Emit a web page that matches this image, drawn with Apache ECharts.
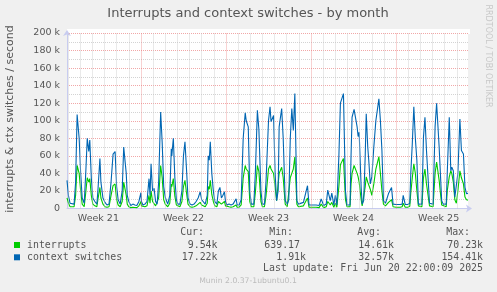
<!DOCTYPE html>
<html><head><meta charset="utf-8">
<script src="https://cdn.jsdelivr.net/npm/echarts@6/dist/echarts.min.js"></script>
<style>html,body{margin:0;padding:0;background:#f0f0f0;}#c{width:497px;height:292px;}</style>
</head><body><div id="c"></div>
<script>
// time in hours since graph start (Sun May 18 22:00 2025), values in thousands per second
const hours = [
0,3,6,14,17,20,24,27,30,34,
37,40,43,45,48,51,55,59,61,65,
67,71,75,79,83,87,91,95,98,101,
105,109,112,114,117,119,122,126,130,134,
138,142,146,147,150,154,158,162,164,166,
169,172,175,178,181,185,188,191,194,197,
199,203,206,207,210,213,216,219,223,227,
230,233,236,239,243,247,251,255,259,263,
266,269,273,277,279,281,283,286,289,292,
296,299,302,305,308,311,313,316,320,324,
328,331,334,336,340,344,348,352,354,358,
361,364,369,372,376,379,383,386,390,393,
398,401,403,408,411,414,417,419,424,427,
431,435,438,441,444,447,450,454,457,460,
467,470,475,478,484,492,498,502,507,512,
515,518,520,523,527,530,533,537,540,546,
550,553,559,561,563,567,573,575,577,581,
583,586,589,591,594,596,599,602,606,610,
616,619,622,625,629,635,641,644,650,658,
662,664,668,673,677,679,682,685,688,691,
694,697,701,704,707,710,716,719,723,727,
730,735,740,743,749,751,755,758,760,763,
766,769,772,776,779,783,786,789,792];
const contextSwitches = [
32,14,6,5,30,107,80,40,12,6,
40,80,65,78,35,12,8,5,20,57,
30,12,7,4,5,30,62,65,25,10,
5,20,70,72,40,15,8,3.5,5,4,
3.5,8,18,8,4,5,8,34,15,51,
20,23,8,5,30,110,75,25,13,8,
5,15,68,60,80,35,10,5,5,20,
60,76,45,12,5,4,5,8,12,19,
10,8,5,15,60,55,76,40,20,8,
5,20,24,12,15,19,8,4,5,4,
5,5,11,4,4,10,80,109,100,93,
20,5,5,40,112,90,20,5,5,30,
100,116,99,106,40,9,20,93,114,80,
9,5,10,80,114,89,131,9,5,5,
7,6,26,4,4,4,3.5,11,3.5,5,
21,20,9,17.5,4,15,4,60,120,131,
20,4,4,60,104,113,93,82,87,24,
5,9,60,108,70,55,28,36,70,100,
125,100,66,9,6,17,24,5,4.6,4.6,
5,15,4.6,4.6,6,40,74,116,80,55,
5,4.6,5,81,104,66,6,4.6,5,93,
120,70,9,5,5,40,104,43,47,43,
13,11,40,102,66,62,24,17,17.22];
const interrupts = [
12,6,2,2,15,49,40,20,5,2,
18,35,30,34,15,5,3,2,10,24,
12,5,2,1.5,2,15,26,28,10,4,
2,8,30,31,15,5,2,1,1.5,1.2,
1,3,8,3,1.5,2,3,15,6,20,
8,10,3,2,12,49,35,10,5,3,
2,6,28,25,34,14,4,2,2,8,
25,32,18,5,2,1.5,2,3,5,7,
4,3,2,6,25,22,32,16,8,3,
2,8,10,5,6,8,3,1.5,2,1.5,
2,2,4,1.5,1.5,4,35,49,45,42,
8,2,2,18,49,42,8,2,2,14,
45,49,45,40,25,9,10,40,47,35,
5,2,4,35,40,45,59,5,2,2,
3,2.5,12,1.5,1.5,1.5,1,5,1,2,
8,8,4,7,1.5,6,1.5,25,50,57,
10,2,2,28,40,49,40,36,30,10,
3,5,25,36,30,28,22,15,28,45,
59,40,20,5,3,7,10,2,1.5,1.5,
2,6,1.5,1.5,2.5,18,35,51,40,20,
3,1.5,2,35,45,28,3,1.5,2,40,
53,32,4,2,2,20,36,43,40,30,
10,6,20,43,35,28,13,10,9.54];
const weekLabels = ['Week 21','Week 22','Week 23','Week 24','Week 25'];
const weekLabelHours = [62,230,398,566,734];
const weekLineHours = [146,314,482,650];
const dayLineHours = [];
for (let h = 2; h < 792; h += 24) dayLineHours.push(h);
const legendRows = [
  {name:'interrupts', color:'#00cc00', cur:'9.54k', min:'639.17', avg:'14.61k', max:'70.23k'},
  {name:'context switches', color:'#0066b3', cur:'17.22k', min:'1.91k', avg:'32.57k', max:'154.41k'}
];

const chart = echarts.init(document.getElementById('c'), null, {renderer:'canvas'});
const sans = 'DejaVu Sans';
const zip = (a, b) => a.map((v, i) => [v, b[i]]);
const gray = {color:'rgba(200,200,200,0.8)', width:1, type:[1,1]};
const red = {color:'rgba(235,130,130,0.7)', width:1, type:[1,1]};
const graphic = [
  {type:'rect', shape:{x:67, y:29, width:403, height:5}, style:{fill:'#fff'}, z:-10, silent:true},
  {type:'text', x:248, y:13.5, style:{text:'Interrupts and context switches - by month', font:'13px "DejaVu Sans"', fill:'#555', align:'center', verticalAlign:'middle'}},
  {type:'text', x:10, y:119, rotation:Math.PI/2, style:{text:'interrupts & ctx switches / second', font:'11px "DejaVu Sans"', fill:'#555', align:'center', verticalAlign:'middle'}},
  {type:'text', x:488, y:56, rotation:-Math.PI/2, style:{text:'RRDTOOL / TOBI OETIKER', font:'8px "DejaVu Sans"', fill:'#c8c8c8', align:'center', verticalAlign:'middle'}},
  {type:'text', x:204, y:232.5, style:{text:'Cur:', font:'9.9px "DejaVu Sans Mono"', fill:'#555', align:'right', verticalAlign:'middle'}},
  {type:'text', x:293, y:232.5, style:{text:'Min:', font:'9.9px "DejaVu Sans Mono"', fill:'#555', align:'right', verticalAlign:'middle'}},
  {type:'text', x:381, y:232.5, style:{text:'Avg:', font:'9.9px "DejaVu Sans Mono"', fill:'#555', align:'right', verticalAlign:'middle'}},
  {type:'text', x:470, y:232.5, style:{text:'Max:', font:'9.9px "DejaVu Sans Mono"', fill:'#555', align:'right', verticalAlign:'middle'}},
  {type:'text', x:483, y:268.5, style:{text:'Last update: Fri Jun 20 22:00:09 2025', font:'9.9px "DejaVu Sans Mono"', fill:'#555', align:'right', verticalAlign:'middle'}},
  {type:'text', x:248, y:281, style:{text:'Munin 2.0.37-1ubuntu0.1', font:'7.7px "DejaVu Sans"', fill:'#bbb', align:'center', verticalAlign:'middle'}}
];
legendRows.forEach((r, i) => {
  const y = 245 + i * 12.3;
  graphic.push({type:'rect', shape:{x:14, y:y-3, width:6, height:6}, style:{fill:r.color}});
  graphic.push({type:'text', x:27, y:y, style:{text:r.name, font:'9.9px "DejaVu Sans Mono"', fill:'#555', align:'left', verticalAlign:'middle'}});
  const minEnd = /k$/.test(r.min) ? 306 : 300;
  [[r.cur,217.5],[r.min,minEnd],[r.avg,394],[r.max,483]].forEach(([t,x]) => {
    graphic.push({type:'text', x:x, y:y, style:{text:t, font:'9.9px "DejaVu Sans Mono"', fill:'#555', align:'right', verticalAlign:'middle'}});
  });
});

chart.setOption({
  animation:false,
  backgroundColor:'#f0f0f0',
  grid:{left:67, right:29, top:33, bottom:83.5, show:true, backgroundColor:'#fff', borderWidth:0},
  xAxis:{type:'value', min:0, max:792,
    axisLine:{show:true, lineStyle:{color:'#c8ccf0', width:1}, symbol:['none','arrow'], symbolSize:[6,6], symbolOffset:[0,4]},
    axisTick:{show:false}, splitLine:{show:false},
    axisLabel:{customValues:weekLabelHours, formatter:v => weekLabels[weekLabelHours.indexOf(v)] || '', fontFamily:sans, fontSize:9.5, color:'#555', margin:5}},
  yAxis:{type:'value', min:0, max:200, interval:20,
    axisLine:{show:true, lineStyle:{color:'#c8ccf0', width:1}, symbol:['none','arrow'], symbolSize:[6,6], symbolOffset:[0,3]},
    axisTick:{show:false},
    axisLabel:{formatter:v => v === 0 ? '0' : v + ' k', fontFamily:sans, fontSize:9.5, color:'#555', margin:7},
    splitLine:{show:true, lineStyle:red},
    minorTick:{show:false, splitNumber:2},
    minorSplitLine:{show:true, lineStyle:gray}},
  graphic:graphic,
  series:[
    {type:'line', data:[], z:1, silent:true,
      markLine:{silent:true, symbol:['none','none'], label:{show:false}, animation:false,
        data: dayLineHours.filter(h => weekLineHours.indexOf(h) < 0).map(h => ({xAxis:h, lineStyle:gray}))
          .concat(weekLineHours.map(h => ({xAxis:h, lineStyle:red})))}},
    {name:'interrupts', type:'line', data:zip(hours, interrupts), showSymbol:false, symbol:'none', z:3,
      lineStyle:{color:'#00cc00', width:1.1}, itemStyle:{color:'#00cc00'}},
    {name:'context switches', type:'line', data:zip(hours, contextSwitches), showSymbol:false, symbol:'none', z:4,
      lineStyle:{color:'#0066b3', width:1.1}, itemStyle:{color:'#0066b3'}}
  ]
});
</script></body></html>
